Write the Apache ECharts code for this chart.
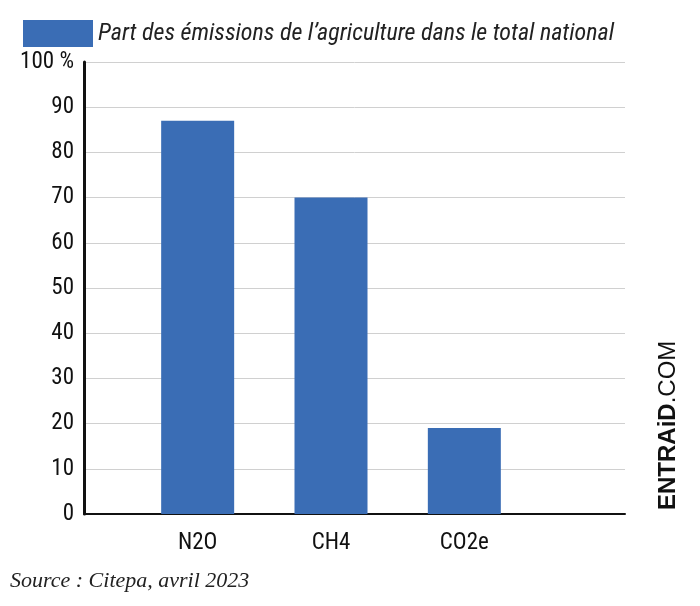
<!DOCTYPE html><html><head><meta charset="utf-8">
<script src="https://cdn.jsdelivr.net/npm/echarts@6/dist/echarts.min.js"></script>
<style>html,body{margin:0;background:#fff}#c{width:700px;height:606px}</style></head><body><div id="c"></div>
<script>
const categories=['N2O','CH4','CO2e'];
const values=[87,70,19];
const yTicks=[0,10,20,30,40,50,60,70,80,90,100];
const seriesName="Part des émissions de l’agriculture dans le total national";
const F="'Liberation Sans Narrow','Roboto Condensed','Liberation Sans',sans-serif";
const chart=echarts.init(document.getElementById('c'));
chart.setOption({
 animation:false,
 legend:{left:18,top:15,itemWidth:70,itemHeight:27,itemGap:14,icon:'rect',
  textStyle:{fontFamily:F,fontStyle:'italic',fontSize:24,color:'#222'},data:[seriesName]},
 grid:[{left:84,right:75,top:62,bottom:92},{left:131,width:400,top:62,bottom:92}],
 xAxis:[{gridIndex:0,type:'value',min:0,max:1,axisLine:{show:true,onZero:false,lineStyle:{color:'#111',width:2}},axisTick:{show:false},axisLabel:{show:false},splitLine:{show:false}},
  {gridIndex:1,type:'category',data:categories,axisLine:{show:false},axisTick:{show:false},
   axisLabel:{fontFamily:F,fontSize:23,color:'#111',margin:18}}],
 yAxis:[{gridIndex:0,type:'value',min:0,max:100,interval:10,
   axisLine:{show:true,lineStyle:{color:'#111',width:3}},axisTick:{show:false},
   axisLabel:{fontFamily:F,fontSize:23,color:'#111',margin:10,formatter:v=>v===100?'100 %':String(v)},
   splitLine:{lineStyle:{color:'#d0d0d0',width:1}}},
  {gridIndex:1,type:'value',min:0,max:100,show:false}],
 series:[{name:seriesName,type:'bar',xAxisIndex:1,yAxisIndex:1,data:values,barWidth:73,
   itemStyle:{color:'#3a6db5'}}],
 graphic:[
  {type:'text',left:10,top:570,style:{text:'Source : Citepa, avril 2023',font:"italic 22px 'Liberation Serif','DejaVu Serif',serif",fill:'#222'}},
  {type:'text',x:656,y:510,rotation:Math.PI/2,style:{rich:{a:{font:"bold 24px 'Liberation Sans',sans-serif",fill:'#111'},b:{font:"24px 'Liberation Sans',sans-serif",fill:'#111'}},text:'{a|ENTRAiD}{b|.COM}'}}
 ]
});
</script></body></html>
